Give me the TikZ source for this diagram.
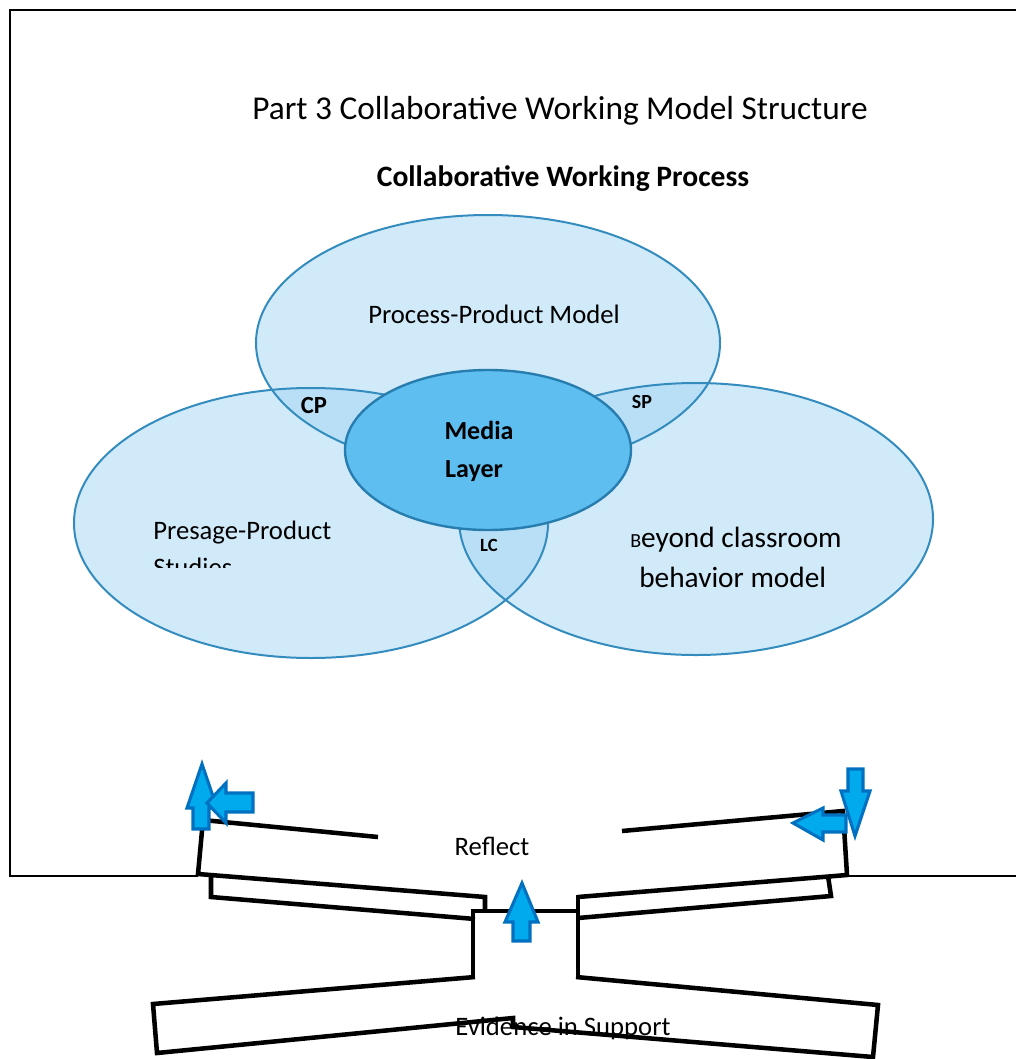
\documentclass[tikz,border=0pt]{standalone}
\usepackage{fontspec}
\setmainfont{Carlito}
\begin{document}
\definecolor{ringfill}{RGB}{161,213,243}
\definecolor{ringline}{RGB}{52,140,190}
\definecolor{mediafill}{RGB}{94,190,240}
\definecolor{medialine}{RGB}{40,125,175}
\definecolor{arrowfill}{RGB}{0,170,236}
\definecolor{arrowline}{RGB}{0,112,192}
\tikzset{
  ringarea/.style={fill=ringfill, fill opacity=0.5},
  ringedge/.style={draw=ringline, line width=1.5pt},
  txt/.style={inner sep=0pt, font=\fontsize{20}{24}\selectfont},
  tag/.style={inner sep=0pt, font=\bfseries\fontsize{#1}{#1}\selectfont},
  frameline/.style={line width=1.1pt},
  wall/.style={line width=3.4pt, line cap=butt, line join=miter},
  blockarrow/.style={fill=arrowfill, draw=arrowline, line width=2.3pt, line join=miter}
}
\begin{tikzpicture}[x=0.75pt, y=-0.75pt]
\useasboundingbox (0,0) rectangle (1016,1059);

% outer frame (its lower edge is interrupted by the strips below)
\draw[frameline] (198,876) -- (10,876) -- (10,10) -- (1016,10);
\draw[frameline] (847,876) -- (1016,876);

% headings
\node[txt, anchor=base, font=\fontsize{25}{30}\selectfont] (title) at (560,120)
  {Part 3 Collaborative Working Model Structure};
\node[txt, anchor=base, font=\bfseries\fontsize{22.2}{26}\selectfont] (subtitle) at (563,187)
  {Collaborative Working Process};

% three overlapping model rings
\coordinate (ctop) at (488,343);
\coordinate (cleft) at (311,523);
\coordinate (cright) at (696,519);
\fill[ringarea] (ctop) ellipse [x radius=232, y radius=128];
\fill[ringarea] (cleft) ellipse [x radius=237, y radius=135];
\fill[ringarea] (cright) ellipse [x radius=237, y radius=136];
\draw[ringedge] (ctop) ellipse [x radius=232, y radius=128];
\draw[ringedge] (cleft) ellipse [x radius=237, y radius=135];
\draw[ringedge] (cright) ellipse [x radius=237, y radius=136];

% central media layer
\coordinate (cmedia) at (488,450);
\draw[fill=mediafill, draw=medialine, line width=1.8pt] (cmedia) ellipse [x radius=143, y radius=80];

% ring labels
\node[txt, anchor=base] (procprod) at (494,323) {Process-Product Model};
\node[txt, anchor=base west] (presage) at (153,539) {Presage-Product};
\begin{scope}
  \clip (100,545) rectangle (420,567);
  \node[txt, anchor=base west] (studies) at (153,576) {Studies};
\end{scope}
\node[txt, anchor=base west, font=\fontsize{22}{26}\selectfont] (beyond) at (630,547)
  {{\fontsize{15}{17}\selectfont B}eyond classroom};
\node[txt, anchor=base west, font=\fontsize{22}{26}\selectfont] (behavior) at (639,587)
  {behavior model};

% overlap tags and media label
\node[tag=18.5, anchor=base] (cp) at (314,413) {CP};
\node[tag=15, anchor=base] (sp) at (642,408) {SP};
\node[tag=14, anchor=base] (lc) at (489,551) {LC};
\node[tag=19.5, anchor=base] (media) at (479,439) {Media};
\node[tag=19.5, anchor=base] (layer) at (474,477) {Layer};

% reflect strip, bent at the centre
\draw[wall] (378,837) -- (203,820) -- (198,874) -- (485,897) -- (485,909);
\draw[wall] (622,831) -- (843,811) -- (847,875) -- (578,897);
% thin strips under it
\draw[wall] (211,876) -- (211,897) -- (475,919);
\draw[wall] (828,876) -- (831,896) -- (578,918);
% central neck
\draw[wall] (473,979) -- (473,911) -- (578,911);
\draw[wall] (578,895) -- (578,979);
% evidence strip
\draw[wall] (475,977) -- (153,1004) -- (157,1053) -- (513,1018) -- (513,1027)
  -- (873,1057) -- (878,1005) -- (576,977);

\node[txt, anchor=base] (reflect) at (492,855) {Reflect};
\node[txt, anchor=base] (evidence) at (563,1035) {Evidence in Support};

% block arrows
\draw[blockarrow] (193,829) -- (193,808) -- (187,808) -- (202,764) -- (217,808)
  -- (209,808) -- (209,829) -- cycle;
\draw[blockarrow] (253,793) -- (226,793) -- (226,783) -- (207,803) -- (226,823)
  -- (226,812) -- (253,812) -- cycle;
\draw[blockarrow] (848,769) -- (863,769) -- (863,791) -- (870,791) -- (855,836)
  -- (841,791) -- (848,791) -- cycle;
\draw[blockarrow] (846,815) -- (823,815) -- (823,808) -- (793,823) -- (823,840)
  -- (823,832) -- (846,832) -- cycle;
\draw[blockarrow] (513,941) -- (513,922) -- (505,922) -- (522,883) -- (538,922)
  -- (530,922) -- (530,941) -- cycle;
\end{tikzpicture}
\end{document}
